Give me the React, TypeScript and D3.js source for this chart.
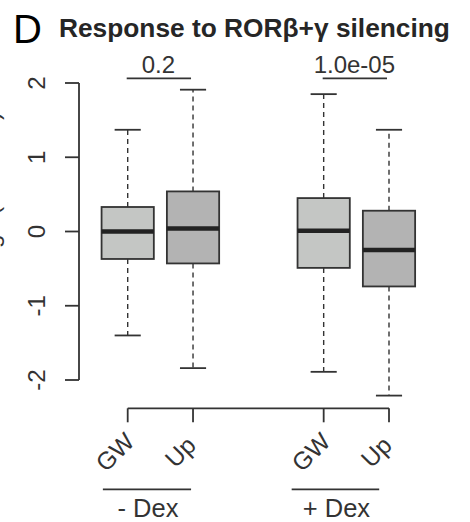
import React from 'react';
import * as d3 from 'd3';

// box statistics
const categories = ['GW', 'Up', 'GW', 'Up'];
const positions = [1, 2, 4, 5];
const lowerWhisker = [-1.40, -1.84, -1.89, -2.21];
const q1 = [-0.37, -0.43, -0.49, -0.74];
const median = [0.00, 0.04, 0.01, -0.25];
const q3 = [0.33, 0.54, 0.45, 0.28];
const upperWhisker = [1.37, 1.91, 1.85, 1.37];
const fills = ['#c4c6c4', '#b3b3b3', '#c4c6c4', '#b3b3b3'];

// p-value brackets and group labels
const pValues = ['0.2', '1.0e-05'];
const pPairs = [[1, 2], [4, 5]];
const groupLabels = ['- Dex', '+ Dex'];
const groupSpans = [[0.62, 1.97], [3.51, 4.85]];
const yTicks = [-2, -1, 0, 1, 2];

const font = '"Liberation Sans", Arial, Helvetica, sans-serif';
const ink = '#333';

const App = () => {
  const width = 470, height = 522;

  const x = d3.scaleLinear().domain([1, 5]).range([127.7, 389]);
  const y = d3.scaleLinear().domain([-2, 2]).range([380, 83]);

  const boxW = (x(2) - x(1)) * 0.8;
  const axisX = 79;
  const axisY = 408.3;
  const tickLen = 14;

  return (
    <svg width={width} height={height}
      style={{position: 'absolute', left: 0, top: 0, background: '#fff'}}
      fontFamily={font}>
      {/* panel letter and title */}
      <text x={13} y={42.5} fontSize={40} fill="#000">D</text>
      <text x={59} y={36.5} fontSize={26.3} fontWeight="bold" fill="#262626">
        Response to RORβ+γ silencing
      </text>

      {/* y-axis title, cut by the left edge as in the figure */}
      <text transform={`translate(-1, 112) rotate(-90)`} textAnchor="end"
        fontSize={24} fill={ink}>log2 (treat/ctrl)</text>

      {/* y axis */}
      <line x1={axisX} x2={axisX} y1={y(-2)} y2={y(2)} stroke={ink} strokeWidth={1.8} />
      {yTicks.map(t => (
        <g key={t}>
          <line x1={axisX - tickLen} x2={axisX} y1={y(t)} y2={y(t)} stroke={ink} strokeWidth={1.8} />
          <text transform={`translate(45, ${y(t)}) rotate(-90)`} textAnchor="middle"
            fontSize={24} fill={ink}>{t}</text>
        </g>
      ))}

      {/* boxes */}
      {positions.map((p, i) => {
        const cx = x(p);
        return (
          <g key={i}>
            <line x1={cx} x2={cx} y1={y(q3[i])} y2={y(upperWhisker[i])}
              stroke={ink} strokeWidth={1.4} strokeDasharray="5,4" />
            <line x1={cx} x2={cx} y1={y(q1[i])} y2={y(lowerWhisker[i])}
              stroke={ink} strokeWidth={1.4} strokeDasharray="5,4" />
            <line x1={cx - boxW / 4} x2={cx + boxW / 4} y1={y(upperWhisker[i])} y2={y(upperWhisker[i])}
              stroke={ink} strokeWidth={1.8} />
            <line x1={cx - boxW / 4} x2={cx + boxW / 4} y1={y(lowerWhisker[i])} y2={y(lowerWhisker[i])}
              stroke={ink} strokeWidth={1.8} />
            <rect x={cx - boxW / 2} y={y(q3[i])} width={boxW} height={y(q1[i]) - y(q3[i])}
              fill={fills[i]} stroke={ink} strokeWidth={1.8} />
            <line x1={cx - boxW / 2} x2={cx + boxW / 2} y1={y(median[i])} y2={y(median[i])}
              stroke="#222" strokeWidth={4.5} />
          </g>
        );
      })}

      {/* x axis */}
      <line x1={x(1)} x2={x(5)} y1={axisY} y2={axisY} stroke={ink} strokeWidth={1.8} />
      {positions.map((p, i) => (
        <g key={i}>
          <line x1={x(p)} x2={x(p)} y1={axisY} y2={axisY + tickLen} stroke={ink} strokeWidth={1.8} />
          <text transform={`translate(${x(p) - 12.8}, 452) rotate(-45)`} textAnchor="middle"
            dominantBaseline="central" fontSize={24.5} fill={ink}>{categories[i]}</text>
        </g>
      ))}

      {/* p-values */}
      {pValues.map((pv, i) => {
        const [a, b] = pPairs[i];
        return (
          <g key={i}>
            <line x1={x(a) - 1} x2={x(b) - 2} y1={78.3} y2={78.3} stroke={ink} strokeWidth={1.8} />
            <text x={(x(a) + x(b)) / 2 - 2} y={73} textAnchor="middle" fontSize={24} fill={ink}>{pv}</text>
          </g>
        );
      })}

      {/* group labels */}
      {groupLabels.map((g, i) => {
        const [a, b] = groupSpans[i];
        return (
          <g key={i}>
            <line x1={x(a)} x2={x(b)} y1={489.3} y2={489.3} stroke={ink} strokeWidth={1.8} />
            <text x={(x(a) + x(b)) / 2 + 1} y={516.5} textAnchor="middle" fontSize={25.5} fill={ink}>{g}</text>
          </g>
        );
      })}
    </svg>
  );
};

export default App;
